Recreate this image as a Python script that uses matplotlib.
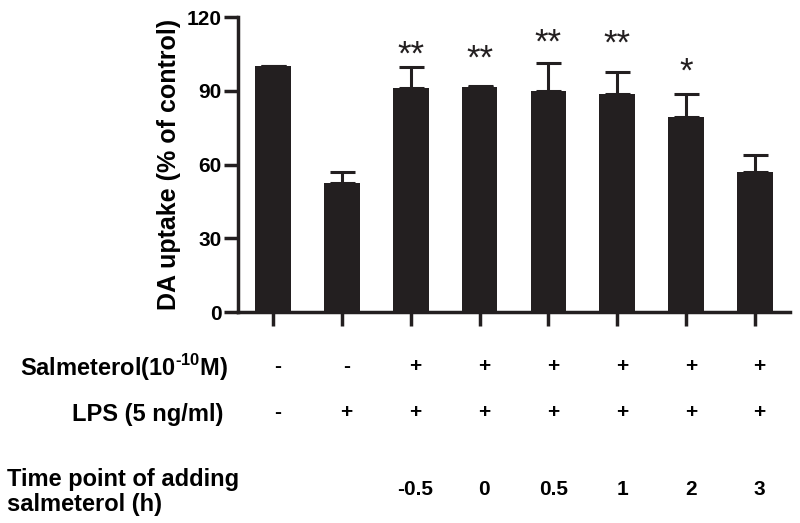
import numpy as np
import matplotlib.pyplot as plt

plt.rcParams['font.family'] = ['Liberation Sans', 'DejaVu Sans']
plt.rcParams['mathtext.fontset'] = 'custom'
plt.rcParams['mathtext.rm'] = 'Liberation Sans:bold'
plt.rcParams['mathtext.bf'] = 'Liberation Sans:bold'

# data
means = [100, 52.5, 91, 91.5, 90, 88.5, 79.5, 57]
upper = [100, 57, 99.5, 92, 101.5, 97.5, 88.5, 64]
stars = ['', '', '**', '**', '**', '**', '*', '']
star_y = [0, 0, 107.5, 106, 112.5, 112, 100.5, 0]
salm = ['-', '-', '+', '+', '+', '+', '+', '+']
lps = ['-', '+', '+', '+', '+', '+', '+', '+']
times = ['', '', '-0.5', '0', '0.5', '1', '2', '3']

x = np.arange(len(means))
err = np.array(upper) - np.array(means)
ink = '#231f20'

fig = plt.figure(figsize=(8, 5.23), dpi=100)
ax = fig.add_axes([0.2975, 0.4034, 0.69, 0.564])

ax.bar(x, means, width=0.52, color=ink, zorder=2)
ax.errorbar(x, means, yerr=[np.zeros_like(err), err], fmt='none',
            ecolor=ink, elinewidth=2.2, capsize=9, capthick=2.2, zorder=1)
for xi, s, sy in zip(x, stars, star_y):
    if s:
        ax.text(xi, sy - 3, s, ha='center', va='center', fontsize=25,
                color=ink)

ax.set_xlim(-0.51, 7.51)
ax.set_ylim(0, 120)
ax.set_yticks([0, 30, 60, 90, 120])
ax.set_xticks(x)
ax.set_xticklabels([])
for sp in ['top', 'right']:
    ax.spines[sp].set_visible(False)
for sp in ['left', 'bottom']:
    ax.spines[sp].set_linewidth(2.5)
    ax.spines[sp].set_color(ink)
ax.tick_params(axis='both', width=2.5, length=10, color=ink)
ax.tick_params(axis='y', labelsize=15, pad=2)
for lab in ax.get_yticklabels():
    lab.set_fontweight('bold')
ax.set_ylabel('DA uptake (% of control)', fontsize=18, fontweight='bold',
              labelpad=4)

# condition table below the axis
tr = ax.get_xaxis_transform()
for xi, a, b, t in zip(x, salm, lps, times):
    ax.text(xi + 0.07, -0.186, a, transform=tr, ha='center', va='center',
            fontsize=15, fontweight='bold', clip_on=False)
    ax.text(xi + 0.07, -0.342, b, transform=tr, ha='center', va='center',
            fontsize=15, fontweight='bold', clip_on=False)
    ax.text(xi + 0.07, -0.603, t, transform=tr, ha='center', va='center',
            fontsize=15, fontweight='bold', clip_on=False)

fig.text(228 / 800, 1 - 368 / 523, 'Salmeterol(10$^{\\text{-10}}$M)',
         ha='right', va='center', fontsize=17, fontweight='bold')
fig.text(223 / 800, 1 - 414 / 523, 'LPS (5 ng/ml)',
         ha='right', va='center', fontsize=17, fontweight='bold')
fig.text(7 / 800, 1 - 492 / 523, 'Time point of adding\nsalmeterol (h)',
         ha='left', va='center', fontsize=17, fontweight='bold',
         linespacing=1.1)

fig.savefig('out.png', dpi=100)
